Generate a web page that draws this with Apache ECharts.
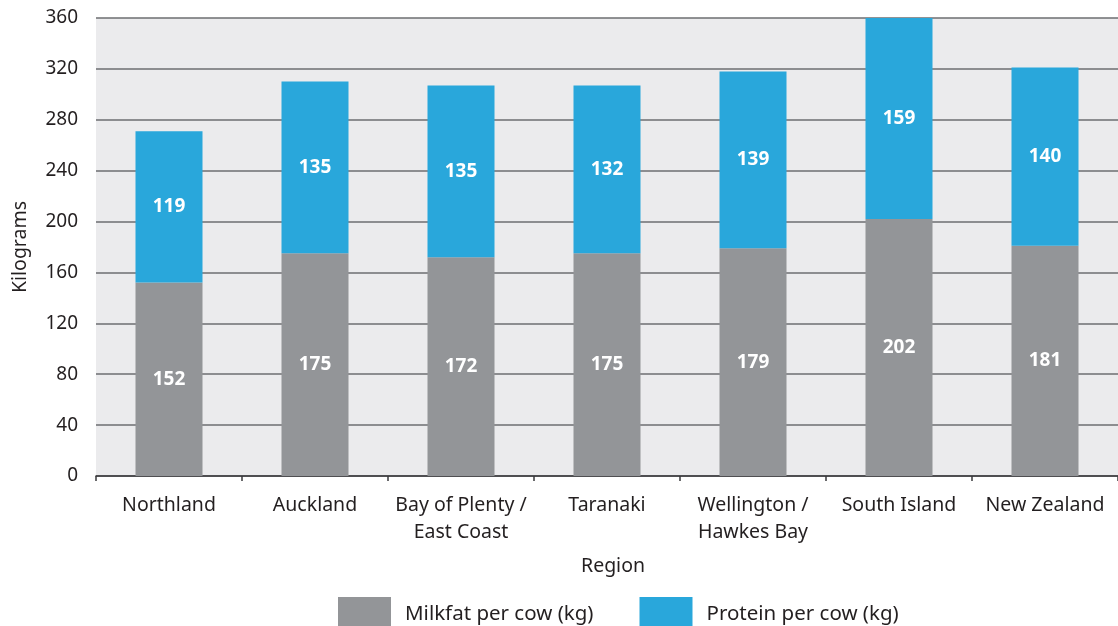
<!DOCTYPE html>
<html>
<head>
<meta charset="utf-8">
<script src="https://cdn.jsdelivr.net/npm/echarts@6/dist/echarts.min.js"></script>
<style>
  html, body { margin: 0; padding: 0; background: #fff; }
  #chart { width: 1118px; height: 626px; }
</style>
</head>
<body>
<div id="chart"></div>
<script>
// data
const regions = ["Northland", "Auckland", "Bay of Plenty /\nEast Coast", "Taranaki", "Wellington /\nHawkes Bay", "South Island", "New Zealand"]
const milkfat = [152, 175, 172, 175, 179, 202, 181]
const protein = [119, 135, 135, 132, 139, 159, 140]

const font = "Noto Sans"
const textColor = "#231f20"

let myChart = echarts.init(document.getElementById("chart"))

myChart.setOption({
  animation: false,
  textStyle: { fontFamily: font },
  grid: {
    left: 96,
    right: 0,
    top: 18,
    bottom: 150,
    show: true,
    backgroundColor: "#ebebed",
    borderWidth: 0,
    outerBoundsMode: "none",
  },
  legend: {
    top: 592,
    left: 333,
    itemWidth: 53,
    itemHeight: 34,
    itemGap: 46,
    icon: "rect",
    textStyle: { fontFamily: font, fontSize: 20.5, color: textColor, padding: [0, 0, 0, 9] },
    data: ["Milkfat per cow (kg)", "Protein per cow (kg)"],
  },
  xAxis: {
    type: "category",
    data: regions,
    name: "Region",
    nameLocation: "middle",
    nameGap: 80,
    nameTextStyle: { fontFamily: font, fontSize: 19.5, color: textColor, padding: [0, 0, 0, 12] },
    axisLine: { lineStyle: { color: "#3a3a3c", width: 1.5 } },
    axisTick: { show: true, length: 5, lineStyle: { color: "#3a3a3c", width: 1.5 } },
    axisLabel: { fontFamily: font, fontSize: 19.5, color: textColor, margin: 16, lineHeight: 27, interval: 0 },
  },
  yAxis: {
    type: "value",
    min: 0,
    max: 360,
    interval: 40,
    name: "Kilograms",
    nameLocation: "middle",
    nameGap: 66,
    nameRotate: 90,
    nameTextStyle: { fontFamily: font, fontSize: 19.5, color: textColor },
    axisLine: { show: false },
    axisTick: { show: false },
    axisLabel: { fontFamily: font, fontSize: 19, color: textColor, margin: 18 },
    splitLine: { lineStyle: { color: "#6d6e71", width: 1.5 } },
  },
  series: [
    {
      name: "Milkfat per cow (kg)",
      type: "bar",
      stack: "total",
      data: milkfat,
      barWidth: 67,
      itemStyle: { color: "#939598" },
      label: { show: true, position: "inside", color: "#fff", fontWeight: "bold", fontSize: 19, fontFamily: font },
    },
    {
      name: "Protein per cow (kg)",
      type: "bar",
      stack: "total",
      data: protein,
      barWidth: 67,
      itemStyle: { color: "#29a7db" },
      label: { show: true, position: "inside", color: "#fff", fontWeight: "bold", fontSize: 19, fontFamily: font },
    },
  ],
})
</script>
</body>
</html>
